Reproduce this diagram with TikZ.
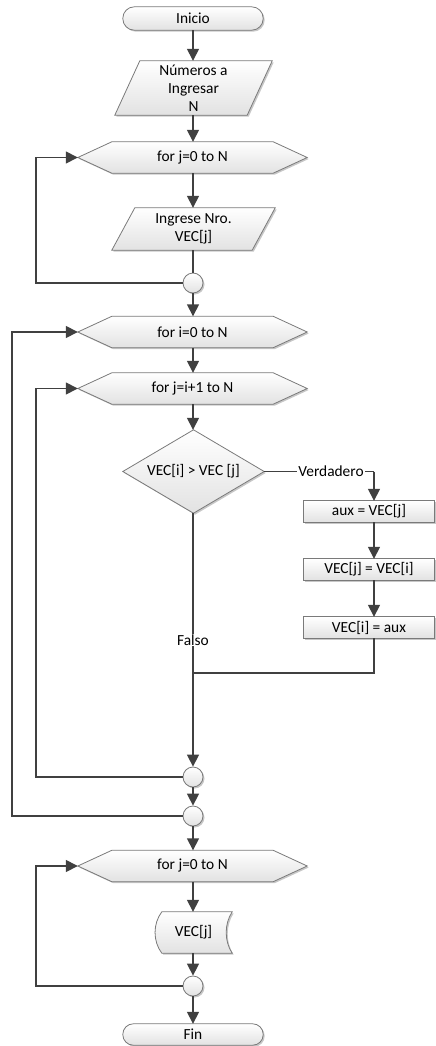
\documentclass[tikz,border=0pt]{standalone}
\usepackage{fontspec}
\setmainfont{Carlito}
\usetikzlibrary{arrows.meta,shadows,backgrounds,calc}
\definecolor{linec}{HTML}{404040}
\definecolor{bordc}{HTML}{7A7A7A}
\definecolor{fillb}{HTML}{E2E2E2}
\newcommand{\fsz}{\fontsize{15.4}{18}\selectfont}
\tikzset{
  shp/.style={draw=bordc, line width=0.8pt, top color=white, bottom color=fillb,
    drop shadow={shadow xshift=1.5pt, shadow yshift=-1.5pt, fill=black, opacity=0.22}},
  txt/.style={inner sep=0pt, font=\fsz, align=center, text=black},
  circ/.style={shp, circle, minimum size=20pt, inner sep=0pt},
  ln/.style={draw=linec, line width=1.5pt},
  arr/.style={ln, -{Triangle[length=12pt,width=12pt]}},
  lbl/.style={fill=white, inner sep=1pt, font=\fsz, text=black},
}
\begin{document}
\begin{tikzpicture}[x=1pt,y=-1pt]
\useasboundingbox (0,0) rectangle (436,1046);
\coordinate (L1) at (36,0);
\coordinate (L2) at (12,0);
% text nodes
\node[txt, minimum width=140, minimum height=23] (ini) at (193,18.5) {Inicio};
\node[txt, minimum width=157, minimum height=54] (p1) at (193.5,88) {Números a\\Ingresar\\N};
\node[txt, minimum width=229, minimum height=31] (h1) at (192.5,157.5) {for j=0 to N};
\node[txt, minimum width=163, minimum height=42] (p2) at (193.5,229) {Ingrese Nro.\\VEC[j]};
\node[circ] (c1) at (193,283) {};
\node[txt, minimum width=229, minimum height=31] (h2) at (192.5,332) {for i=0 to N};
\node[txt, minimum width=229, minimum height=31] (h3) at (192.5,388.5) {for j=i+1 to N};
\node[txt, minimum width=141, minimum height=83] (d) at (193.5,471.5) {VEC[i] > VEC [j]};
\node[txt, minimum width=130, minimum height=21] (b1) at (369,511.5) {aux = VEC[j]};
\node[txt, minimum width=130, minimum height=21] (b2) at (369,569.5) {VEC[j] = VEC[i]};
\node[txt, minimum width=130, minimum height=21] (b3) at (369,627.5) {VEC[i] = aux};
\node[circ] (c2) at (193,777) {};
\node[circ] (c3) at (193,816) {};
\node[txt, minimum width=229, minimum height=31] (h4) at (192.5,866) {for j=0 to N};
\node[txt, minimum width=77, minimum height=41] (sd) at (193.5,932.5) {VEC[j]};
\node[circ] (c4) at (193,986) {};
\node[txt, minimum width=140, minimum height=21] (fin) at (193,1034.5) {Fin};
\coordinate (vcol) at (374,471.5);
\coordinate (join) at (374,673);
% shapes
\begin{scope}[on background layer]
\path[shp, rounded corners=11.5pt] (ini.south west) rectangle (ini.north east);
\path[shp, rounded corners=10.5pt] (fin.south west) rectangle (fin.north east);
\path[shp] ([xshift=25pt]p1.north west) -- (p1.north east) -- ([xshift=-25pt]p1.south east) -- (p1.south west) -- cycle;
\path[shp] ([xshift=23pt]p2.north west) -- (p2.north east) -- ([xshift=-23pt]p2.south east) -- (p2.south west) -- cycle;
\foreach \h in {h1,h2,h3,h4}{
  \path[shp] (\h.west) -- ([xshift=34pt]\h.north west) -- ([xshift=-34pt]\h.north east) -- (\h.east)
    -- ([xshift=-34pt]\h.south east) -- ([xshift=34pt]\h.south west) -- cycle;
}
\path[shp] (d.west) -- (d.north) -- (d.east) -- (d.south) -- cycle;
\foreach \b in {b1,b2,b3}{
  \path[shp] (\b.south west) rectangle (\b.north east);
}
\path[shp] ([xshift=7pt]sd.north west) -- (sd.north east)
  .. controls ([xshift=-8pt,yshift=-12pt]sd.north east) and ([xshift=-8pt,yshift=12pt]sd.south east) .. (sd.south east)
  -- ([xshift=7pt]sd.south west)
  .. controls ([xshift=-2pt,yshift=12pt]sd.south west) and ([xshift=-2pt,yshift=-12pt]sd.north west) .. ([xshift=7pt]sd.north west)
  -- cycle;
\end{scope}
% connectors
\draw[arr] (ini.south) -- (ini.south |- p1.north);
\draw[arr] (c1.south |- p1.south) -- (c1.south |- h1.north);
\draw[arr] (c1.south |- h1.south) -- (c1.south |- p2.north);
\draw[ln] (c1.north |- p2.south) -- (c1.north);
\draw[arr] (c1.west) -- (c1.west -| L1) |- (h1.west);
\draw[arr] (c1.south) -- (c1.south |- h2.north);
\draw[arr] (c1.south |- h2.south) -- (c1.south |- h3.north);
\draw[arr] (c1.south |- h3.south) -- (c1.south |- d.north);
\draw[ln] (d.east) -- (vcol);
\draw[arr] (vcol) -- (vcol |- b1.north);
\draw[arr] (vcol |- b1.south) -- (vcol |- b2.north);
\draw[arr] (vcol |- b2.south) -- (vcol |- b3.north);
\draw[ln] (vcol |- b3.south) -- (join) -- (join -| c2.north);
\draw[arr] (c2.north |- d.south) -- (c2.north);
\draw[arr] (c2.west) -- (c2.west -| L1) |- (h3.west);
\draw[arr] (c2.south) -- (c3.north);
\draw[arr] (c3.west) -- (c3.west -| L2) |- (h2.west);
\draw[arr] (c3.south) -- (c3.south |- h4.north);
\draw[arr] (c3.south |- h4.south) -- (c3.south |- sd.north);
\draw[arr] (c4.north |- sd.south) -- (c4.north);
\draw[arr] (c4.west) -- (c4.west -| L1) |- (h4.west);
\draw[arr] (c4.south) -- (c4.south |- fin.north);
% labels on connectors
\node[lbl] (verd) at (331,471.5) {Verdadero};
\node[lbl] (falso) at (193,640) {Falso};
\end{tikzpicture}
\end{document}
